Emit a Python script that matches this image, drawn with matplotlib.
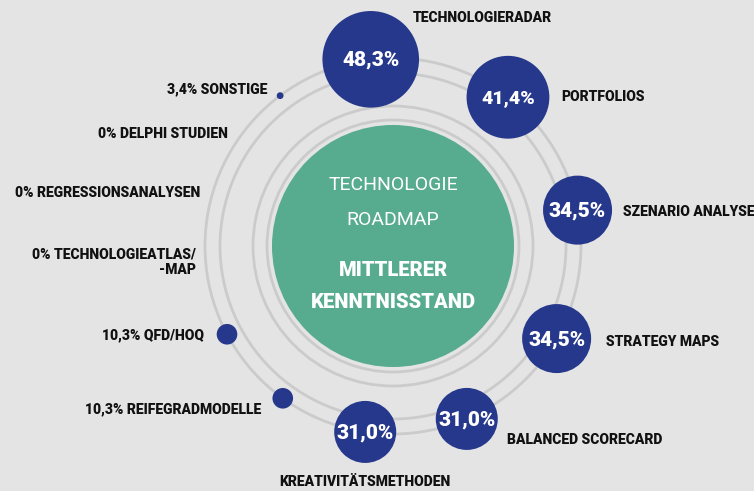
import matplotlib
matplotlib.use("Agg")
import matplotlib.pyplot as plt
from matplotlib.patches import Circle
import numpy as np
from matplotlib import font_manager

# Data: share of respondents knowing each method (%)
methods = ["TECHNOLOGIERADAR", "PORTFOLIOS", "SZENARIO ANALYSE", "STRATEGY MAPS",
           "BALANCED SCORECARD", "KREATIVITÄTSMETHODEN", "REIFEGRADMODELLE",
           "QFD/HOQ", "SONSTIGE"]
shares = [48.3, 41.4, 34.5, 34.5, 31.0, 31.0, 10.3, 10.3, 3.4]
zero_methods = ["DELPHI STUDIEN", "REGRESSIONSANALYSEN", "TECHNOLOGIEATLAS/\n-MAP"]
zero_shares = [0, 0, 0]

# layout (pixel space, y down)
cx, cy = 393, 246
ring_r = 188
angles = [96.8, 52.3, 11.0, -29.5, -66.9, -98.5, -125.9, -152.0, 126.9]
label_pos = [(413, 18, "left"), (561, 97, "left"), (623, 212, "left"),
             (606, 342, "left"), (507, 440, "left"), (365, 482, "center"),
             (261, 409, "right"), (204, 335, "right"), (267, 89, "right")]
zero_pos = [(228, 134), (200, 193), (196, 262)]

navy = "#26388c"
green = "#57ab8f"
bg = "#e4e4e4"
ringc = "#cbcbcb"

names = [f.name for f in font_manager.fontManager.ttflist]
fam = ["Liberation Sans Narrow", "DejaVu Sans"] if "Liberation Sans Narrow" in names else ["Roboto", "DejaVu Sans"]
plt.rcParams["font.family"] = fam


def fmt(v):
    return "0%" if v == 0 else f"{v:.1f}".replace(".", ",") + "%"


fig = plt.figure(figsize=(7.54, 4.91), dpi=100)
fig.patch.set_facecolor(bg)
ax = fig.add_axes([0, 0, 1, 1])
ax.set_facecolor(bg)
ax.set_xlim(0, 754)
ax.set_ylim(491, 0)
ax.set_aspect("equal")
ax.axis("off")

for r in [126, 140, 173, 188]:
    ax.add_patch(Circle((cx, cy), r, fill=False, ec=ringc, lw=2.0, zorder=1))

ax.add_patch(Circle((cx, cy), 121, fc=green, ec="none", zorder=2))
ax.text(cx, 185, "TECHNOLOGIE", color="white", fontsize=14, ha="center", va="center", zorder=3)
ax.text(cx, 220, "ROADMAP", color="white", fontsize=14, ha="center", va="center", zorder=3)
ax.text(cx, 271, "MITTLERER", color="white", fontsize=14.5, fontweight="heavy", ha="center", va="center", zorder=3)
ax.text(cx, 303, "KENNTNISSTAND", color="white", fontsize=14.5, fontweight="heavy", ha="center", va="center", zorder=3)

for name, v, a, (lx, ly, ha) in zip(methods, shares, angles, label_pos):
    t = np.radians(a)
    bx = cx + ring_r * np.cos(t)
    by = cy - ring_r * np.sin(t)
    ax.add_patch(Circle((bx, by), v, fc=navy, ec="none", zorder=4))
    if v >= 20:
        ax.text(bx, by + 1, fmt(v), color="white", fontsize=15 if v != 41.4 else 14,
                fontweight="heavy", ha="center", va="center", zorder=5)
        label = name
    else:
        label = fmt(v) + " " + name
    ax.text(lx, ly, label, color="#111111", fontsize=10, fontweight="heavy",
            ha=ha, va="center", zorder=5)

for name, v, (lx, ly) in zip(zero_methods, zero_shares, zero_pos):
    ax.text(lx, ly, fmt(v) + " " + name, color="#111111", fontsize=10,
            fontweight="heavy", ha="right", va="center", linespacing=1.1, zorder=5)

fig.savefig("out.png", dpi=100, facecolor=bg)
